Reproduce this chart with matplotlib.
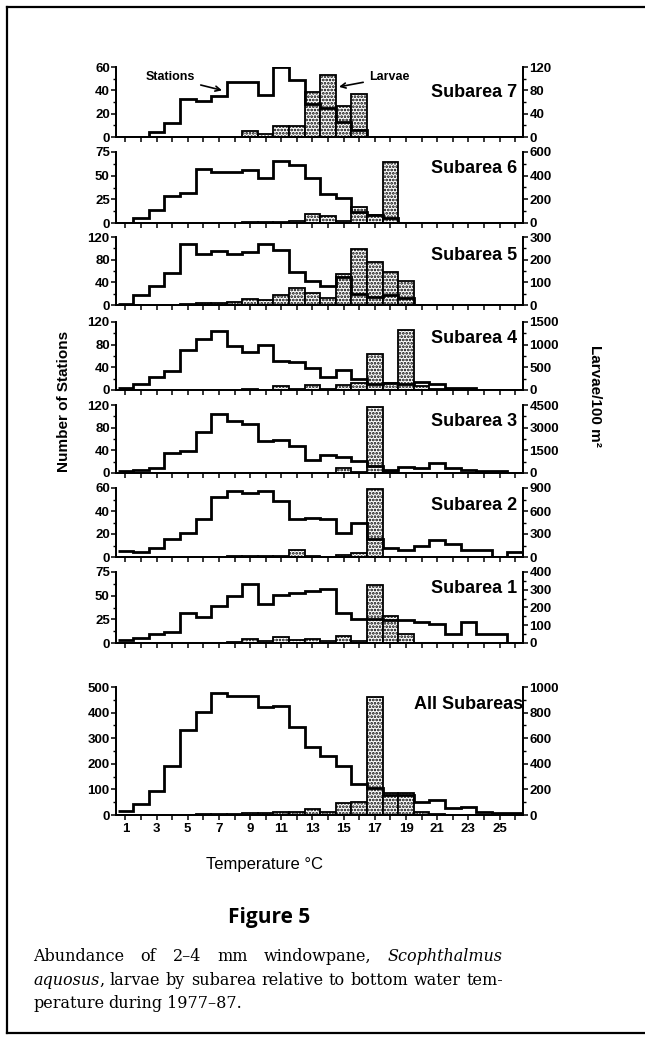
import numpy as np
import matplotlib
matplotlib.use('Agg')
import matplotlib.pyplot as plt
from matplotlib.lines import Line2D
from matplotlib.ticker import MultipleLocator

plt.rcParams['font.family'] = ['Liberation Sans', 'DejaVu Sans']
plt.rcParams['hatch.linewidth'] = 1.3

# ─── DONNÉES ──────────────────────────────────────────────────────────────────
temperatures = list(range(1, 27))

stations_7 = [0, 0, 4, 12, 33, 31, 35, 47, 47, 36, 60, 49, 28, 25, 13, 6, 0, 0, 0, 0, 0, 0, 0, 0, 0, 0]
larvae_7 = [0, 0, 0, 0, 0, 0, 0, 0, 10, 6, 19, 19, 77, 107, 53, 74, 0, 0, 0, 0, 0, 0, 0, 0, 0, 0]

stations_6 = [0, 5, 14, 29, 32, 57, 54, 54, 56, 48, 66, 61, 48, 31, 26, 12, 8, 5, 0, 0, 0, 0, 0, 0, 0, 0]
larvae_6 = [0, 0, 0, 0, 0, 0, 0, 0, 5, 8, 10, 14, 72, 55, 20, 135, 70, 518, 0, 0, 0, 0, 0, 0, 0, 0]

stations_5 = [1, 17, 33, 56, 107, 90, 95, 90, 94, 108, 97, 58, 43, 34, 50, 20, 15, 18, 12, 0, 0, 0, 0, 0, 0, 0]
larvae_5 = [0, 0, 0, 0, 3, 8, 10, 15, 25, 22, 45, 77, 51, 32, 135, 249, 190, 146, 105, 0, 0, 0, 0, 0, 0, 0]

stations_4 = [3, 10, 23, 33, 70, 90, 104, 77, 67, 79, 51, 50, 39, 23, 35, 20, 10, 13, 10, 14, 10, 4, 4, 0, 0, 0]
larvae_4 = [0, 0, 0, 0, 0, 0, 0, 0, 20, 10, 90, 20, 100, 30, 120, 160, 790, 150, 1330, 90, 20, 0, 0, 0, 0, 0]

stations_3 = [3, 5, 8, 36, 38, 73, 104, 92, 87, 56, 59, 48, 23, 32, 29, 22, 13, 6, 11, 9, 18, 9, 5, 3, 3, 0]
larvae_3 = [0, 0, 0, 0, 0, 0, 0, 0, 0, 0, 0, 0, 0, 0, 330, 66, 4400, 50, 30, 30, 20, 0, 0, 0, 0, 0]

stations_2 = [5, 4, 8, 16, 21, 33, 52, 57, 56, 57, 49, 33, 34, 33, 21, 30, 16, 8, 6, 10, 15, 11, 6, 6, 0, 4]
larvae_2 = [0, 0, 0, 0, 0, 0, 5, 8, 10, 10, 15, 87, 8, 5, 20, 52, 890, 0, 0, 0, 0, 0, 0, 0, 0, 0]

stations_1 = [3, 5, 9, 12, 32, 27, 39, 50, 62, 41, 51, 53, 55, 57, 32, 25, 25, 24, 24, 22, 20, 10, 22, 9, 9, 0]
larvae_1 = [0, 0, 0, 0, 0, 0, 0, 5, 24, 10, 34, 15, 24, 10, 38, 10, 325, 150, 50, 0, 0, 0, 0, 0, 0, 0]

stations_all = [17, 43, 95, 191, 331, 403, 477, 464, 464, 422, 426, 344, 266, 230, 191, 123, 104, 78, 78, 52, 58, 26, 32, 13, 9, 6]
larvae_all = [0, 0, 0, 0, 3, 5, 8, 10, 13, 15, 26, 26, 50, 26, 96, 104, 922, 169, 169, 26, 5, 0, 0, 0, 0, 0]

noms = ["Subarea 7", "Subarea 6", "Subarea 5", "Subarea 4",
        "Subarea 3", "Subarea 2", "Subarea 1", "All Subareas"]
series_stations = [stations_7, stations_6, stations_5, stations_4,
                   stations_3, stations_2, stations_1, stations_all]
series_larvae = [larvae_7, larvae_6, larvae_5, larvae_4,
                 larvae_3, larvae_2, larvae_1, larvae_all]
max_gauche = [60, 75, 120, 120, 120, 60, 75, 500]
pas_gauche = [20, 25, 40, 40, 40, 20, 25, 100]
max_droite = [120, 600, 300, 1500, 4500, 900, 400, 1000]
pas_droite = [40, 200, 100, 500, 1500, 300, 100, 200]

# ─── MISE EN PAGE (pixels de l'image d'origine) ───────────────────────────────
W, H = 645, 1040
# (bas, haut) de chaque panneau
cadres = [(137, 67), (223, 152), (305, 237), (390, 322),
          (473, 405), (557, 488), (643, 572), (815, 687)]
pos_label = [0.64, 0.77, 0.73, 0.76, 0.75, 0.75, 0.77, 0.86]
X_GAUCHE, X_DROITE = 116, 523

fig = plt.figure(figsize=(W / 100, H / 100), dpi=100)
bords = np.arange(0.5, 27.5, 1.0)

tick_kw = dict(direction='out', width=1.1, labelsize=9.5)

for i, (nom, st, lv) in enumerate(zip(noms, series_stations, series_larvae)):
    bas, haut = cadres[i]
    ax = fig.add_axes([X_GAUCHE / W, 1 - bas / H,
                       (X_DROITE - X_GAUCHE) / W, (bas - haut) / H])
    ax2 = ax.twinx()

    # barres larves (axe droit)
    t_bar = [t for t, v in zip(temperatures, lv) if v > 0]
    v_bar = [v for v in lv if v > 0]
    ax2.bar(t_bar, v_bar, width=1.0, facecolor='white', edgecolor='black',
            hatch='.....', linewidth=1.3)

    # histogramme stations (axe gauche) par-dessus
    ax.stairs(st, bords, color='black', linewidth=2.0, baseline=None)
    ax.set_zorder(ax2.get_zorder() + 1)
    ax.patch.set_visible(False)

    for a in (ax, ax2):
        a.set_xlim(0.4, 26.5)
        a.spines['top'].set_visible(False)
        for s in ('left', 'right', 'bottom'):
            a.spines[s].set_linewidth(1.3)
    ax.set_ylim(0, max_gauche[i])
    ax2.set_ylim(0, max_droite[i])
    ax.yaxis.set_major_locator(MultipleLocator(pas_gauche[i]))
    ax.yaxis.set_minor_locator(MultipleLocator(pas_gauche[i] / 2))
    ax2.yaxis.set_major_locator(MultipleLocator(pas_droite[i]))
    ax2.yaxis.set_minor_locator(MultipleLocator(pas_droite[i] / 2))

    ax.set_xticks(temperatures)
    if i == len(noms) - 1:
        ax.set_xticklabels([str(t) if t % 2 == 1 else '' for t in temperatures],
                           fontweight='bold')
    else:
        ax.set_xticklabels([])
    ax.tick_params(axis='x', which='major', length=3.5, pad=2, **tick_kw)
    ax.tick_params(axis='y', which='major', length=3.5, pad=1, **tick_kw)
    ax.tick_params(axis='y', which='minor', length=2, width=1.0, direction='out')
    ax2.tick_params(axis='y', which='major', length=3.5, pad=1, **tick_kw)
    ax2.tick_params(axis='y', which='minor', length=2, width=1.0, direction='out')
    for lab in ax.get_yticklabels() + ax2.get_yticklabels():
        lab.set_fontweight('bold')

    ax.text(0.985 if i < 7 else 1.0, pos_label[i], nom, transform=ax.transAxes,
            ha='right', va='center', fontsize=13, fontweight='bold')

    if i == 0:
        ax.annotate('Stations', xy=(7.2, 40), xytext=(3.9, 51),
                    ha='center', va='center', fontsize=9, fontweight='bold',
                    arrowprops=dict(arrowstyle='->', lw=1.2, color='black',
                                    shrinkA=2, shrinkB=0))
        ax.annotate('Larvae', xy=(14.7, 43), xytext=(17.9, 51),
                    ha='center', va='center', fontsize=9, fontweight='bold',
                    arrowprops=dict(arrowstyle='->', lw=1.2, color='black',
                                    shrinkA=2, shrinkB=0))

# ─── TITRES D'AXES ────────────────────────────────────────────────────────────
fig.text(64 / W, 1 - 401 / H, 'Number of Stations', rotation=90,
         ha='center', va='center', fontsize=11, fontweight='bold')
fig.text(595 / W, 1 - 396 / H, 'Larvae/100 m²', rotation=270,
         ha='center', va='center', fontsize=11, fontweight='bold')
fig.text(264 / W, 1 - 865 / H, 'Temperature °C', ha='center', va='center',
         fontsize=12)

fig.text(269 / W, 1 - 918 / H, 'Figure 5', ha='center', va='center',
         fontsize=15, fontweight='bold', family=['Open Sans', 'DejaVu Sans'])

# ─── LÉGENDE (texte justifié) ────────────────────────────────────────────────
SERIF = ['DejaVu Serif']
TAILLE = 11.5
renderer = fig.canvas.get_renderer()


def ligne(mots, y_px, justifie=True):
    """mots : liste de mots, chaque mot = liste de (texte, style)."""
    x0, x1 = 33 / W, 503 / W
    objets, largeurs = [], []
    for mot in mots:
        parts, lmot = [], 0
        for txt, style in mot:
            t = fig.text(0, 1 - y_px / H, txt, fontstyle=style, family=SERIF,
                         fontsize=TAILLE, va='baseline', ha='left')
            w = t.get_window_extent(renderer).width / fig.bbox.width
            parts.append((t, w))
            lmot += w
        objets.append(parts)
        largeurs.append(lmot)
    if justifie and len(mots) > 1:
        gap = (x1 - x0 - sum(largeurs)) / (len(mots) - 1)
    else:
        gap = 4.5 / W
    x = x0
    for parts, lmot in zip(objets, largeurs):
        xx = x
        for t, w in parts:
            t.set_x(xx)
            xx += w
        x += lmot + gap


N, I = 'normal', 'italic'
ligne([[('Abundance', N)], [('of', N)], [('2–4', N)], [('mm', N)],
       [('windowpane,', N)], [('Scophthalmus', I)]], 961)
ligne([[('aquosus', I), (',', N)], [('larvae', N)], [('by', N)], [('subarea', N)],
       [('relative', N)], [('to', N)], [('bottom', N)], [('water', N)],
       [('tem-', N)]], 985)
ligne([[('perature', N)], [('during', N)], [('1977–87.', N)]], 1008,
      justifie=False)

# ─── CADRE ────────────────────────────────────────────────────────────────────
for xs, ys in [([7, 7], [7, 1033]), ([7, 645], [7, 7]), ([7, 645], [1033, 1033])]:
    fig.add_artist(Line2D([x / W for x in xs], [1 - y / H for y in ys],
                          color='black', linewidth=1.6))

fig.savefig('out.png', dpi=100)
